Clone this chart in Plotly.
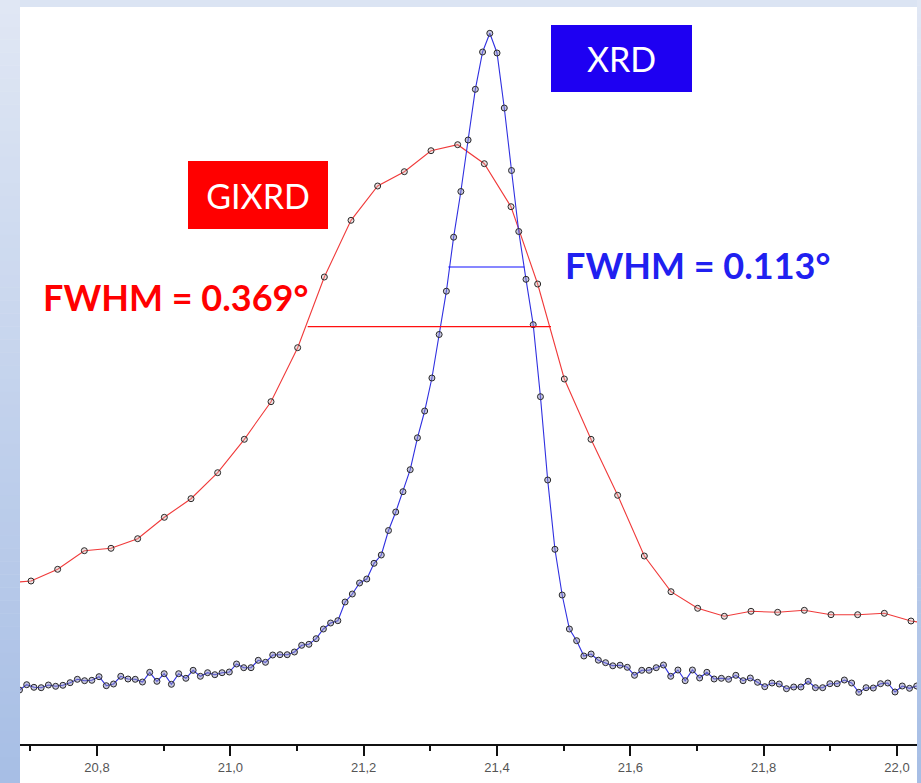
import plotly.graph_objects as go

# ---------------- data ----------------
# GIXRD scan: 2theta grid (start, step) and intensities (arbitrary units)
gixrd_start = 20.661
gixrd_step = 0.04
gixrd_int = [161, 163, 174.7, 193.3, 195.7, 205.3, 226.7, 245.3, 271.3, 304.7, 342.3,
             396.3, 467, 523.7, 558, 572.3, 593.3, 599.3, 580.3, 537.3, 460, 365,
             304.7, 248.7, 188, 152.3, 135.7, 127.7, 132.7, 131.7, 133.7, 129.3,
             129.3, 130.7, 123, 119]

# XRD scan: 2theta grid (start, step) and intensities (arbitrary units)
xrd_start = 20.6837
xrd_step = 0.010854
xrd_int = [54, 59.3, 56.7, 56.3, 59, 57.7, 58.7, 61.3, 64.7, 63.3, 63.7, 67.3, 58.3,
           60, 67.7, 65, 64.7, 62, 71.7, 62.7, 70.3, 59.7, 70.3, 65.7, 73.7, 67.7,
           71.3, 69.3, 71.3, 72, 80, 76.3, 76.3, 83.7, 81.7, 89, 89.3, 89.3, 92,
           98.7, 99.7, 105.3, 115, 121, 123.3, 142, 150, 161, 165, 180.7, 189,
           213.5, 232, 252.3, 274.3, 306.2, 333, 366, 409.5, 452.8, 506.8, 552.5,
           604, 654.7, 692, 710.7, 691, 636, 573.5, 512.5, 464.7, 419.3, 347.3, 264,
           194.7, 149, 115, 103.3, 88, 90, 83.8, 81.3, 78.2, 78.8, 76.7, 68.7, 73.7,
           73.7, 76.3, 79, 67.7, 74, 63.3, 74, 66, 71.7, 65, 65.7, 64.7, 68.7, 63.3,
           66, 61.7, 57.3, 61, 60, 55.3, 57, 57, 62.7, 56.3, 56.3, 60.3, 60.3, 64,
           61, 51.7, 56.3, 56, 60.3, 61, 52, 58, 55.7, 58]

# FWHM segments (2theta ends, half-maximum level)
gixrd_fwhm_x = [21.116, 21.481]
gixrd_half = 417.3
xrd_fwhm_x = [21.327, 21.441]
xrd_half = 477

# axis ticks
tick_vals = [20.8, 21.0, 21.2, 21.4, 21.6, 21.8, 22.0]
tick_text = ["20,8", "21,0", "21,2", "21,4", "21,6", "21,8", "22,0"]
minor_vals = [20.7, 20.9, 21.1, 21.3, 21.5, 21.7, 21.9]

# labels
xrd_label = "XRD"
gixrd_label = "GIXRD"
xrd_fwhm_label = "FWHM = 0.113°"
gixrd_fwhm_label = "FWHM = 0.369°"

# ---------------- figure ----------------
gixrd_x = [gixrd_start + gixrd_step * i for i in range(len(gixrd_int))]
xrd_x = [xrd_start + xrd_step * i for i in range(len(xrd_int))]

RED = "#f03a3a"
BLUE = "#2f2fe0"

fig = go.Figure()
fig.add_trace(go.Scatter(
    x=gixrd_x, y=gixrd_int, mode="lines+markers",
    line=dict(color=RED, width=1.1),
    marker=dict(symbol="circle", size=6, color="rgba(200,170,170,0.35)",
                line=dict(color="#2a2a2a", width=1)),
    hoverinfo="skip", showlegend=False))
fig.add_trace(go.Scatter(
    x=xrd_x, y=xrd_int, mode="lines+markers",
    line=dict(color=BLUE, width=1.1),
    marker=dict(symbol="circle", size=6, color="rgba(140,140,190,0.5)",
                line=dict(color="#2a2a2a", width=1)),
    hoverinfo="skip", showlegend=False))
fig.add_trace(go.Scatter(
    x=gixrd_fwhm_x, y=[gixrd_half, gixrd_half], mode="lines",
    line=dict(color="#ff1010", width=1.2), hoverinfo="skip", showlegend=False))
fig.add_trace(go.Scatter(
    x=xrd_fwhm_x, y=[xrd_half, xrd_half], mode="lines",
    line=dict(color="#1010ff", width=1.2), hoverinfo="skip", showlegend=False))

W, H = 921, 783
ML, MR, MT, MB = 20, 4, 7, 39
pw, ph = W - ML - MR, H - MT - MB


def px2paper(px, py):
    return (px - ML) / pw, 1 - (py - MT) / ph


shapes = []


def lerp(c1, c2, t):
    return "rgb(%d,%d,%d)" % tuple(round(a + (b - a) * t) for a, b in zip(c1, c2))


top_c = (224, 231, 244)
bot_c = (167, 190, 229)
n = 60
for i in range(n):
    y0p, y1p = H * i / n, H * (i + 1) / n + 0.5
    col = lerp(top_c, bot_c, (i + 0.5) / n)
    x0, y0 = px2paper(0, y1p)
    x1, y1 = px2paper(ML, y0p)
    shapes.append(dict(type="rect", xref="paper", yref="paper", x0=x0, x1=x1,
                       y0=y0, y1=y1, fillcolor=col, line=dict(width=0), layer="below"))
    x0, y0 = px2paper(W - MR, y1p)
    x1, y1 = px2paper(W, y0p)
    shapes.append(dict(type="rect", xref="paper", yref="paper", x0=x0, x1=x1,
                       y0=y0, y1=y1, fillcolor=col, line=dict(width=0), layer="below"))
x0, y0 = px2paper(ML, MT)
x1, y1 = px2paper(W - MR, 0)
shapes.append(dict(type="rect", xref="paper", yref="paper", x0=x0, x1=x1, y0=y0, y1=y1,
                   fillcolor="rgb(219,228,243)", line=dict(width=0), layer="below"))

annotations = []


def box(text, cx, cy, w, h, bg, size):
    x, y = px2paper(cx, cy)
    annotations.append(dict(text=text, xref="paper", yref="paper", x=x, y=y,
                            xanchor="center", yanchor="middle", showarrow=False,
                            width=w, height=h, bgcolor=bg, borderpad=0, borderwidth=0,
                            align="center", valign="middle",
                            font=dict(family="Lato, Open Sans, sans-serif", size=size,
                                      color="white")))


def label(text, cx, cy, color, size):
    x, y = px2paper(cx, cy)
    annotations.append(dict(text=text, xref="paper", yref="paper", x=x, y=y,
                            xanchor="center", yanchor="middle", showarrow=False,
                            font=dict(family="Lato, Open Sans, sans-serif", size=size,
                                      color=color, weight="bold")))


box(xrd_label, 621.5, 58.5, 141, 67, "#1e00f2", 34)
box(gixrd_label, 258, 195, 140, 68, "#ff0000", 34)
label(gixrd_fwhm_label, 175.5, 297, "#ff0000", 36)
label(xrd_fwhm_label, 697, 265, "#2020f0", 36)

fig.update_layout(
    width=W, height=H, autosize=False,
    margin=dict(l=ML, r=MR, t=MT, b=MB, pad=0),
    paper_bgcolor="white", plot_bgcolor="white",
    shapes=shapes, annotations=annotations, hovermode=False,
    xaxis=dict(range=[20.6845, 22.0300], tickmode="array", tickvals=tick_vals,
               ticktext=tick_text, ticks="outside", ticklen=10, tickwidth=2,
               tickcolor="#111", showline=True, linecolor="#111", linewidth=2,
               showgrid=False, zeroline=False,
               tickfont=dict(family="Liberation Sans, Arial, sans-serif", size=13,
                             color="#555"),
               minor=dict(tickmode="array", tickvals=minor_vals, ticks="outside",
                          ticklen=5, tickwidth=2, tickcolor="#111", showgrid=False)),
    yaxis=dict(range=[0, ph], visible=False, showgrid=False, zeroline=False),
)

fig.write_html("out.html", config={"displayModeBar": False},
               post_script="document.body.style.margin='0';"
                           "document.body.style.overflow='hidden';")
